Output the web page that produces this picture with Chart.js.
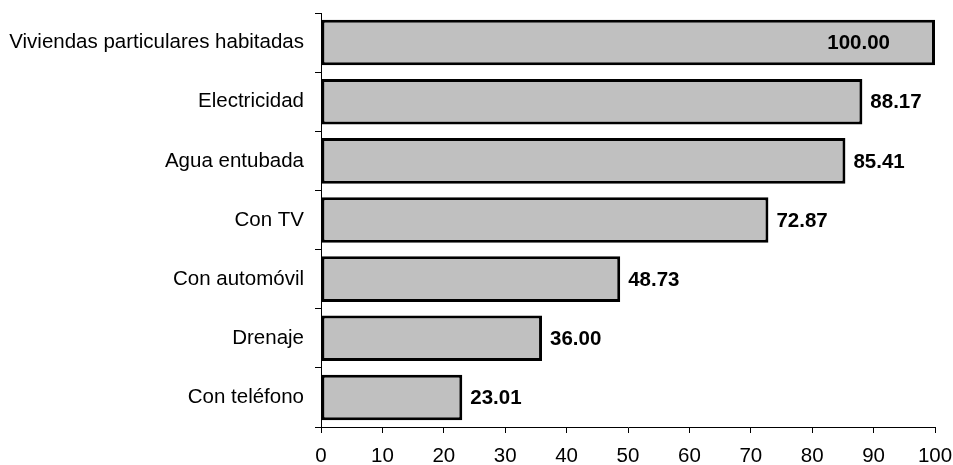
<!DOCTYPE html>
<html>
<head>
<meta charset="utf-8">
<script src="https://cdn.jsdelivr.net/npm/chart.js@4/dist/chart.umd.min.js"></script>
<style>
  html, body { margin: 0; padding: 0; background: #fff; }
  #wrap { width: 953px; height: 465px; }
</style>
</head>
<body>
<div id="wrap"><canvas id="chart"></canvas></div>
<script>
var categories = ['Viviendas particulares habitadas', 'Electricidad', 'Agua entubada', 'Con TV', 'Con automóvil', 'Drenaje', 'Con teléfono'];
var values = [100.00, 88.17, 85.41, 72.87, 48.73, 36.00, 23.01];
var xTicks = [0, 10, 20, 30, 40, 50, 60, 70, 80, 90, 100];

var fontFamily = '"Liberation Sans", Arial, sans-serif';

// value labels next to each bar, inside for the full one
var valueLabels = {
    id: 'valueLabels',
    afterDatasetsDraw(chart) {
        var ctx = chart.ctx;
        var meta = chart.getDatasetMeta(0);
        ctx.save();
        ctx.font = 'bold 20.5px ' + fontFamily;
        ctx.fillStyle = '#000';
        ctx.textBaseline = 'middle';
        meta.data.forEach(function (bar, i) {
            var txt = values[i].toFixed(2);
            if (values[i] >= 100) {
                ctx.textAlign = 'right';
                ctx.fillText(txt, bar.x - 45, bar.y + 1);
            } else {
                ctx.textAlign = 'left';
                ctx.fillText(txt, bar.x + 8, bar.y + 1);
            }
        });
        ctx.restore();
    }
};

const chart = new Chart(document.getElementById('chart'), {
    type: 'bar',
    data: {
        labels: categories,
        datasets: [{
            data: values,
            backgroundColor: '#C0C0C0',
            borderColor: '#000',
            borderWidth: 3,
            borderSkipped: false,
            categoryPercentage: 1,
            barPercentage: 0.77
        }]
    },
    options: {
        indexAxis: 'y',
        responsive: true,
        maintainAspectRatio: false,
        animation: false,
        layout: { padding: { left: 0, right: 18, top: 13, bottom: 0 } },
        plugins: { legend: { display: false }, tooltip: { enabled: false } },
        scales: {
            x: {
                min: 0,
                max: 100,
                afterBuildTicks: function (s) { s.ticks = xTicks.map(v => ({ value: v })); },
                afterFit: function (s) { s.height = 38; s.paddingLeft = 0; s.paddingRight = 0; },
                border: { display: true, color: '#000', width: 1 },
                grid: { drawOnChartArea: false, drawTicks: true, tickLength: 6, color: '#000' },
                ticks: { color: '#000', padding: 11, maxRotation: 0, autoSkip: false, font: { family: fontFamily, size: 20.5 } }
            },
            y: {
                afterFit: function (s) { s.width = 321; s.paddingTop = 0; s.paddingBottom = 0; },
                border: { display: true, color: '#000', width: 1 },
                grid: { drawOnChartArea: false, drawTicks: true, tickLength: 6, color: '#000', offset: true },
                ticks: { color: '#000', padding: 11, autoSkip: false, font: { family: fontFamily, size: 20.5 } }
            }
        }
    },
    plugins: [valueLabels]
});
</script>
</body>
</html>
